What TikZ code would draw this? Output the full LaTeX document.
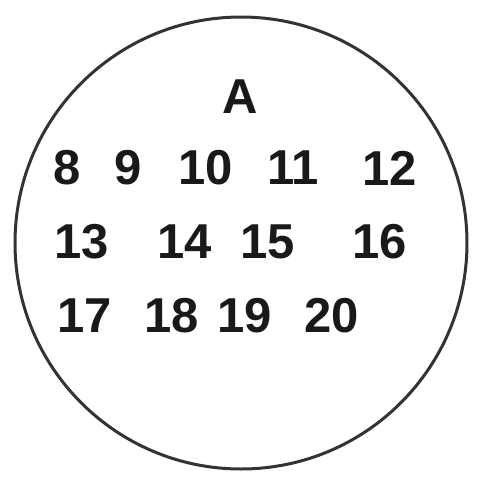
\documentclass[tikz,border=0pt]{standalone}
\usepackage{fontspec}
\setmainfont{Liberation Sans}
\usepackage{tikz}
\usetikzlibrary{positioning}

\begin{document}
\begin{tikzpicture}[x=1pt, y=-1pt,
    num/.style={font=\fontsize{49}{54}\selectfont\bfseries, inner sep=0pt, text=black!90},
    rim/.style={draw=black!80, line width=3pt}
]
\useasboundingbox (0,0) rectangle (478,483);
\node[rim, circle, minimum size=452pt] (C) at (241,243) {};

\node[num] (A) at (240,97) {A};

% first row
\node[num] (n8)  at (67,168)  {8};
\node[num] (n9)  at (128,168) {9};
\node[num] (n10) at (206,168) {10};
\node[num] (n11) at (293,168) {11};
\node[num] (n12) at (390,168) {12};

% second row
\node[num] (n13) at (82,242)  {13};
\node[num] (n14) at (185,242) {14};
\node[num] (n15) at (268,242) {15};
\node[num] (n16) at (380,242) {16};

% third row
\node[num] (n17) at (85,316)  {17};
\node[num] (n18) at (172,316) {18};
\node[num] (n19) at (245,316) {19};
\node[num] (n20) at (332,316) {20};
\end{tikzpicture}
\end{document}
